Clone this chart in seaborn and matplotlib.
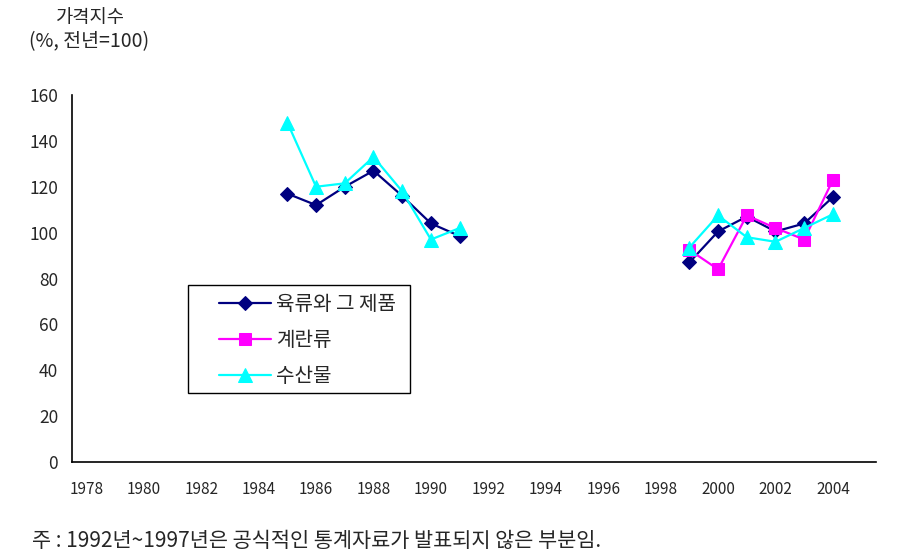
import pandas as pd
import matplotlib
matplotlib.use('Agg')
import matplotlib.pyplot as plt
import seaborn as sns
from matplotlib.patches import Rectangle

years_a = [1985, 1986, 1987, 1988, 1989, 1990, 1991]
years_b = [1999, 2000, 2001, 2002, 2003, 2004]

meat_a = [117, 112, 120, 127, 116, 104, 98.5]
meat_b = [87, 100.5, 107, 100.5, 104, 115.5]
egg_b = [92.5, 84, 107.5, 102, 97, 123]
fish_a = [148, 120, 121.5, 133, 118, 97, 102]
fish_b = [93.5, 107.5, 98, 96, 102, 108]

names = ['육류와 그 제품', '계란류', '수산물']
colors = ['#000080', '#FF00FF', '#00FFFF']
markers = ['D', 's', '^']
msizes = [7, 9, 10]

rows = []
for y, v in zip(years_a, meat_a):
    rows.append((y, v, names[0], 'a'))
for y, v in zip(years_b, meat_b):
    rows.append((y, v, names[0], 'b'))
for y, v in zip(years_b, egg_b):
    rows.append((y, v, names[1], 'b'))
for y, v in zip(years_a, fish_a):
    rows.append((y, v, names[2], 'a'))
for y, v in zip(years_b, fish_b):
    rows.append((y, v, names[2], 'b'))
df = pd.DataFrame(rows, columns=['year', 'value', 'item', 'period'])

sns.set_style('white')
plt.rcParams['font.family'] = ['Noto Sans CJK KR', 'DejaVu Sans']

fig = plt.figure(figsize=(8.99, 5.59), dpi=100)
ax = fig.add_axes([72/899, 1-462/559, (876-72)/899, (462-95)/559])

for name, c, m, ms in zip(names, colors, markers, msizes):
    sub = df[df['item'] == name]
    sns.lineplot(data=sub, x='year', y='value', units='period', estimator=None,
                 color=c, marker=m, markersize=ms, markeredgecolor=c,
                 linewidth=1.6, ax=ax, label=name, sort=True)

ax.set_xlim(1977.5, 2005.5)
ax.set_ylim(0, 160)
ax.set_yticks(range(0, 161, 20))
ax.set_xticks([b + 0.5 for b in range(1977, 2006)])
ax.set_xticklabels([])
ax.set_xticks(list(range(1978, 2005, 2)), [str(y) for y in range(1978, 2005, 2)], minor=True)
ax.tick_params(axis='x', which='major', direction='in', length=5, width=0.8)
ax.tick_params(axis='x', which='minor', length=0, pad=14, labelsize=11)
ax.tick_params(axis='y', direction='in', length=4, width=0.8, labelsize=12.5, pad=10)
ax.set_xlabel('')
ax.set_ylabel('')
for s in ['top', 'right']:
    ax.spines[s].set_visible(False)
for s in ['left', 'bottom']:
    ax.spines[s].set_color('black')
    ax.spines[s].set_linewidth(1.2)

# one legend entry per item (units create duplicates)
handles, labels = ax.get_legend_handles_labels()
seen = {}
for h, l in zip(handles, labels):
    if l not in seen:
        seen[l] = h
leg = ax.legend(list(seen.values()), list(seen.keys()),
                loc='upper left', bbox_to_anchor=(219/899, 1-294/559),
                bbox_transform=fig.transFigure, borderaxespad=0, fontsize=14.5,
                handlelength=2.6, labelspacing=0.74, borderpad=0,
                handletextpad=0.25, frameon=False)
fig.patches.append(Rectangle((188/899, 1-393/559), 222/899, 108/559,
                             transform=fig.transFigure, fill=False,
                             edgecolor='black', linewidth=1.0))

fig.text(90/899, 1-17/559, '가격지수', ha='center', va='center', fontsize=13.5)
fig.text(89/899, 1-42/559, '(%, 전년=100)', ha='center', va='center', fontsize=14)
fig.text(32/899, 1-541/559, '주 : 1992년~1997년은 공식적인 통계자료가 발표되지 않은 부분임.',
         ha='left', va='center', fontsize=15)

fig.savefig('out.png', dpi=100)
